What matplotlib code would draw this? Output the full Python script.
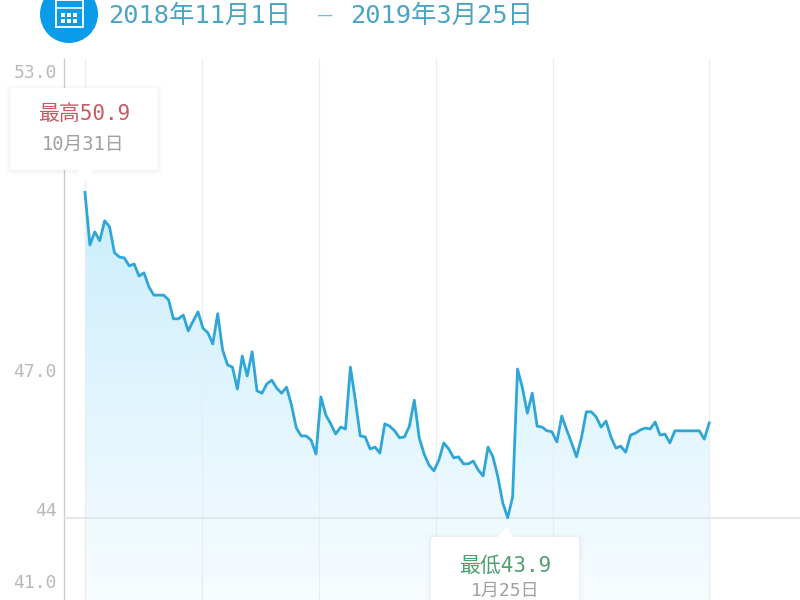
from matplotlib import pyplot as plt
from matplotlib.patches import Circle, FancyBboxPatch, Polygon, Rectangle
import numpy as np

# one value per trading day
values = [50.9, 49.77, 50.05, 49.86, 50.29, 50.16, 49.6, 49.51, 49.49, 49.32,
          49.36, 49.1, 49.17, 48.87, 48.69, 48.69, 48.69, 48.59, 48.18, 48.18,
          48.26, 47.92, 48.13, 48.33, 47.98, 47.88, 47.64, 48.29, 47.51, 47.19,
          47.14, 46.67, 47.38, 46.95, 47.47, 46.63, 46.58, 46.78, 46.86, 46.69,
          46.58, 46.71, 46.33, 45.83, 45.66, 45.66, 45.57, 45.27, 46.5, 46.11,
          45.92, 45.7, 45.85, 45.81, 47.14, 46.43, 45.66, 45.64, 45.38, 45.42,
          45.29, 45.92, 45.87, 45.77, 45.62, 45.64, 45.87, 46.43, 45.62, 45.27,
          45.03, 44.91, 45.14, 45.51, 45.38, 45.19, 45.21, 45.06, 45.06, 45.12,
          44.93, 44.8, 45.42, 45.21, 44.78, 44.22, 43.9, 44.35, 47.1, 46.69,
          46.15, 46.58, 45.87, 45.85, 45.77, 45.75, 45.53, 46.09, 45.79, 45.51,
          45.21, 45.62, 46.18, 46.18, 46.07, 45.85, 45.98, 45.64, 45.4, 45.44,
          45.31, 45.68, 45.72, 45.79, 45.83, 45.81, 45.96, 45.68, 45.7, 45.51,
          45.77, 45.77, 45.77, 45.77, 45.77, 45.77, 45.59, 45.94]
grid_days = [0, 23.8, 47.6, 71.4, 95.2, 127]
ytick_labels = ["53.0", "47.0", "44", "41.0"]
date_from = "2018年11月1日"
date_to = "2019年3月25日"
high_label = "最高50.9"
high_date = "10月31日"
low_label = "最低43.9"
low_date = "1月25日"

MONO = ["DejaVu Sans Mono", "Noto Sans CJK SC"]

days = np.arange(len(values))
low_val = min(values)

fig = plt.figure(figsize=(8, 6), dpi=100)

# main axes fill the whole figure, limits chosen so the curve lands where it should
ax = fig.add_axes([0, 0, 1, 1])
ax.axis("off")

# gradient under the curve
top = np.array([0.79, 0.93, 0.99])
bottom = np.array([0.97, 0.99, 1.0])
grad = np.linspace(0, 1, 256).reshape(-1, 1, 1)
img = top + (bottom - top) * grad
poly = ax.fill_between(days, values, 42.13, color="none", lw=0)
im = ax.imshow(img, extent=[days[0], days[-1], 42.13, 51.0], aspect="auto", zorder=1)
im.set_clip_path(poly.get_paths()[0], transform=ax.transData)
ax.set_xlim(-17.29, 145.47)
ax.set_ylim(42.13, 55.04)

ax.vlines(grid_days, 42.13, 53.8, color="#eaedf0", lw=0.9, zorder=2)
ax.vlines(-4.17, 42.13, 53.8, color="#cccccc", lw=1.0, zorder=2)
ax.hlines(low_val, -4.17, 145.47, color="#dde2e5", lw=1.1, zorder=2)
ax.plot(days, values, color="#2fa6d8", lw=2.0, zorder=3, solid_joinstyle="round")

# pixel layer for header and the two callouts
over = fig.add_axes([0, 0, 1, 1])
over.set_xlim(0, 800)
over.set_ylim(600, 0)
over.axis("off")
over.patch.set_alpha(0)

# calendar icon
over.add_patch(Circle((69, 14), 29, color="#0b9ce9", lw=0))
over.add_patch(Rectangle((55.5, 0), 27, 27, fc="none", ec="white", lw=1.3))
over.plot([55.5, 82.5], [8, 8], color="white", lw=1.1)
for i in range(3):
    for j in range(2):
        over.add_patch(Rectangle((61 + i * 6, 13 + j * 6), 4.2, 4, color="white", lw=0))

over.text(108, 16, date_from, color="#4aa5c4", fontsize=18.3, family=MONO, va="center")
over.text(324, 16, "—", color="#7cbdd2", fontsize=13, family="Noto Sans CJK SC", va="center", ha="center")
over.text(350, 16, date_to, color="#4aa5c4", fontsize=18.3, family=MONO, va="center")

for lab, y in zip(ytick_labels, [73, 372, 511, 583]):
    over.text(57, y, lab, color="#b9b9b9", fontsize=13, family=MONO, ha="right", va="center")


def callout(x0, y0, w, h, tip):
    for grow, a in [(5, 0.006), (3, 0.012), (1.5, 0.02)]:
        over.add_patch(FancyBboxPatch((x0 - grow, y0 - grow + 1), w + 2 * grow, h + 2 * grow,
                                      boxstyle="round,pad=0,rounding_size=4", fc="black",
                                      ec="none", alpha=a))
    over.add_patch(FancyBboxPatch((x0, y0), w, h, boxstyle="round,pad=0,rounding_size=3",
                                  fc="white", ec="none"))
    over.add_patch(Polygon(tip, closed=True, fc="white", ec="none"))


callout(10, 88, 148, 82, [(77, 169), (93, 169), (85, 183)])
callout(431, 537, 148, 80, [(497, 538), (514, 538), (506, 527)])

over.text(84, 114, high_label, color="#c85a63", fontsize=15, family=MONO, ha="center", va="center")
over.text(83, 144, high_date, color="#a0a0a0", fontsize=13.5, family=MONO, ha="center", va="center")
over.text(505, 566, low_label, color="#4f9f70", fontsize=15, family=MONO, ha="center", va="center")
over.text(505, 591, low_date, color="#a0a0a0", fontsize=13, family=MONO, ha="center", va="center")

plt.savefig("out.png", dpi=100)
